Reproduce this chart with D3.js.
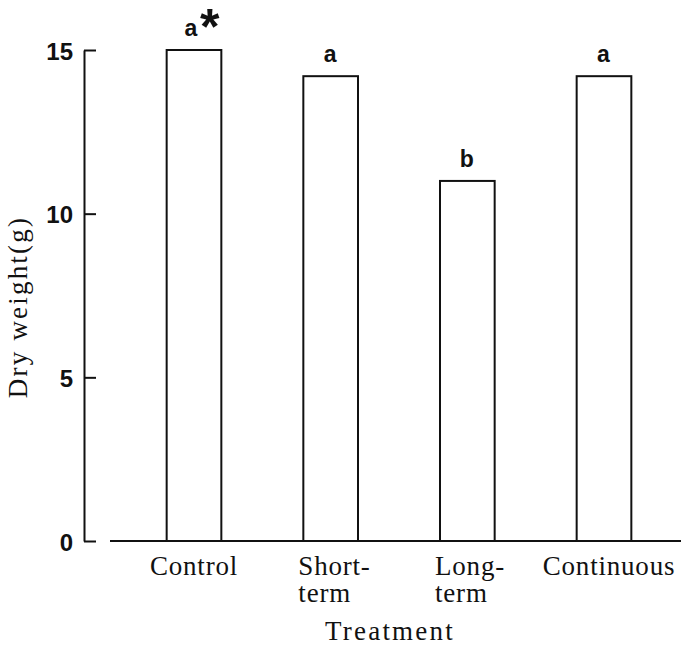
<!DOCTYPE html>
<html>
<head>
<meta charset="utf-8">
<script src="https://cdn.jsdelivr.net/npm/d3@7"></script>
<style>
  body { margin: 0; background: #fff; }
  svg { display: block; }
  .serif { font-family: "Liberation Serif", "Times New Roman", serif; fill: #111; }
  .sans { font-family: "Liberation Sans", Arial, sans-serif; font-weight: bold; fill: #111; }
</style>
</head>
<body>
<div id="chart"></div>
<script>
// data
const treatments = ["Control", "Short-term", "Long-term", "Continuous"];
const tickLines = [["Control"], ["Short-", "term"], ["Long-", "term"], ["Continuous"]];
const dryWeight = [15.0, 14.2, 11.0, 14.2];
const letters = ["a", "a", "b", "a"];
const marks = ["*", "", "", ""];
const yTicks = [0, 5, 10, 15];

const W = 681, H = 648;
const svg = d3.select("#chart").append("svg")
    .attr("width", W)
    .attr("height", H);

const x = d3.scaleBand()
    .domain(treatments)
    .range([112, 686])
    .paddingInner(0.6)
    .paddingOuter(0.4);

const y = d3.scaleLinear()
    .domain([0, 15])
    .range([541, 50]);

// y axis, ticks pointing inward
const yAxis = svg.append("g")
    .attr("transform", "translate(84,0)")
    .call(d3.axisLeft(y).tickValues(yTicks).tickFormat(d3.format("d"))
        .tickSizeInner(-12).tickSizeOuter(0).tickPadding(11));
yAxis.select(".domain").attr("stroke", "#111").attr("stroke-width", 2);
yAxis.selectAll(".tick line").attr("stroke", "#111").attr("stroke-width", 2);
yAxis.selectAll(".tick text")
    .attr("class", "sans")
    .style("font-size", "24px")
    .attr("dy", "0.38em");

// x baseline
svg.append("line")
    .attr("x1", 110).attr("x2", 681)
    .attr("y1", y(0)).attr("y2", y(0))
    .attr("stroke", "#111").attr("stroke-width", 2);

// bars
svg.selectAll(".bar")
    .data(treatments)
    .join("rect")
    .attr("class", "bar")
    .attr("x", d => x(d))
    .attr("y", (d, i) => y(dryWeight[i]))
    .attr("width", x.bandwidth())
    .attr("height", (d, i) => y(0) - y(dryWeight[i]))
    .attr("fill", "#fff")
    .attr("stroke", "#111")
    .attr("stroke-width", 2);

// significance letters
svg.selectAll(".letter")
    .data(treatments)
    .join("text")
    .attr("class", "letter sans")
    .attr("x", (d, i) => x(d) + x.bandwidth() / 2 - (marks[i] ? 3 : 0.5))
    .attr("y", (d, i) => y(dryWeight[i]) - 14)
    .attr("text-anchor", "middle")
    .style("font-size", "23px")
    .text((d, i) => letters[i]);

svg.selectAll(".mark")
    .data(treatments.filter((d, i) => marks[i]))
    .join("text")
    .attr("class", "mark sans")
    .attr("x", d => x(d) + x.bandwidth() / 2 + 6)
    .attr("y", d => y(dryWeight[treatments.indexOf(d)]) - 6)
    .style("font-size", "50px")
    .text(d => marks[treatments.indexOf(d)]);

// category labels
const cat = svg.selectAll(".cat")
    .data(treatments)
    .join("text")
    .attr("class", "cat serif")
    .style("font-size", "27px")
    .style("letter-spacing", "0.8px")
    .attr("text-anchor", (d, i) => tickLines[i].length > 1 ? "start" : "middle")
    .attr("x", (d, i) => tickLines[i].length > 1 ? x(d) - 5 : x(d) + x.bandwidth() / 2 + (i === 3 ? 5 : 0))
    .attr("y", 575);

cat.selectAll("tspan")
    .data((d, i) => tickLines[i].map(t => ({ t, x: tickLines[i].length > 1 ? x(d) - 5 : null })))
    .join("tspan")
    .attr("x", d => d.x)
    .attr("dy", (d, j) => j === 0 ? 0 : 27)
    .text(d => d.t);

// axis titles
svg.append("text")
    .attr("class", "serif")
    .attr("x", 390)
    .attr("y", 640)
    .attr("text-anchor", "middle")
    .style("font-size", "27px")
    .style("letter-spacing", "2.2px")
    .text("Treatment");

svg.append("text")
    .attr("class", "serif")
    .attr("transform", "translate(27,307) rotate(-90)")
    .attr("text-anchor", "middle")
    .style("font-size", "27px")
    .style("letter-spacing", "2.2px")
    .text("Dry weight(g)");
</script>
</body>
</html>
